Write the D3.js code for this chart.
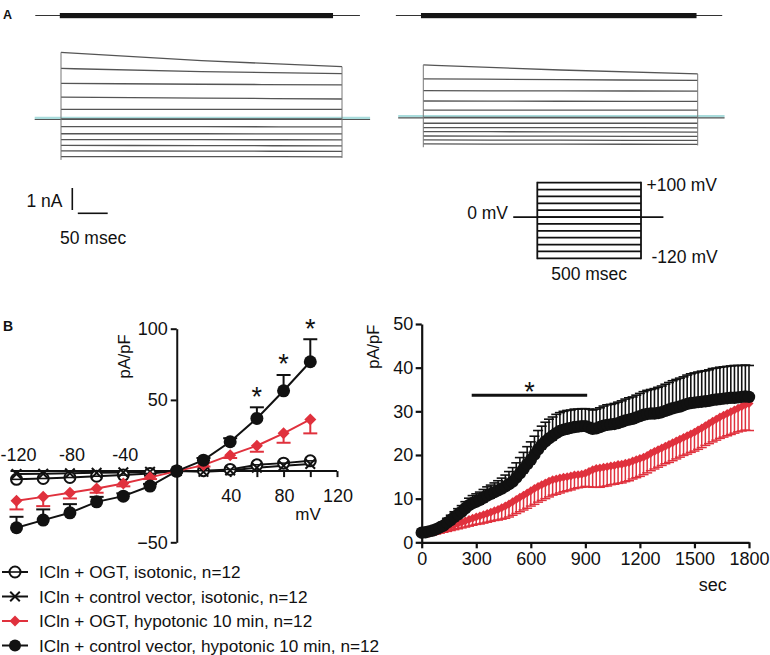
<!DOCTYPE html>
<html><head><meta charset="utf-8">
<script src="https://cdn.jsdelivr.net/npm/d3@7"></script>
<style>
body{margin:0;background:#fff}
svg{display:block}
text{font-family:"Liberation Sans",Arial,sans-serif;fill:#111}
</style>
</head><body>
<svg id="c" width="770" height="655"></svg>
<script>
// ---------- Panel A: current traces (nA) at the step voltages ----------
const stepVoltages = [100, 80, 60, 40, 20, 0, -20, -40, -60, -80, -100, -120];
const traceTimes = [0, 235, 470]; // ms: start, middle, end of the 500 ms step
const leftTraceStart = [3.03, 2.30, 1.62, 0.99, 0.44, 0, -0.35, -0.67, -0.94, -1.20, -1.45, -1.71];
const leftTraceMid   = [2.65, 2.15, 1.58, 0.95, 0.44, 0, -0.35, -0.67, -0.94, -1.21, -1.46, -1.71];
const leftTraceEnd   = [2.38, 2.06, 1.55, 0.91, 0.44, 0, -0.36, -0.68, -0.95, -1.22, -1.47, -1.72];
const rightTraceStart = [2.38, 1.75, 1.21, 0.74, 0.33, 0, -0.27, -0.47, -0.65, -0.85, -1.03, -1.21];
const rightTraceMid   = [2.15, 1.71, 1.20, 0.73, 0.33, 0, -0.27, -0.47, -0.66, -0.86, -1.04, -1.22];
const rightTraceEnd   = [1.97, 1.68, 1.19, 0.72, 0.33, 0, -0.27, -0.48, -0.67, -0.87, -1.05, -1.23];
const scaleBarCurrent = 1;   // nA
const scaleBarTime = 50;     // msec
const protocolDuration = 500; // msec

// ---------- Panel B left: I-V relation ----------
const ivVoltages = [-120, -100, -80, -60, -40, -20, 0, 20, 40, 60, 80, 100];
const ogtIso     = [-5.8, -5.2, -4.5, -3.6, -2.8, -1.7, 0, 0.3, 1.2, 4.4, 5.6, 7.2];
const ctrlIso    = [-2.0, -1.8, -1.5, -1.2, -0.9, -0.5, 0, -0.5, 0.5, 2.4, 3.8, 5.0];
const ogtHypo    = [-20.9, -18.1, -15.2, -12.2, -8.7, -4.4, 0, 4.2, 11.2, 17.8, 26.5, 36.3];
const ogtHypoErr = [6.0, 6.5, 4.0, 3.0, 2.0, 1.2, 0, 1.0, 2.0, 4.2, 6.6, 9.8];   // drawn downward
const ctrlHypo    = [-39.8, -34.4, -29.3, -21.6, -17.6, -10.5, 0, 7.7, 20.6, 37.0, 56.4, 76.8];
const ctrlHypoErr = [7.7, 7.5, 6.1, 3.5, 2.0, 1.5, 0, 1.5, 2.5, 7.8, 11.1, 15.8]; // drawn upward
const ivStarVoltages = [60, 80, 100];
const ivXTicks = [-120, -100, -80, -60, -40, -20, 0, 20, 40, 60, 80, 100, 120];
const ivXLabelsNeg = [-120, -80, -40];
const ivXLabelsPos = [40, 80, 120];
const ivYTicks = [-50, 50, 100];

// ---------- Panel B right: time course ----------
const timeSec = [0,20,40,60,80,100,120,140,160,180,200,220,240,260,280,300,320,340,360,380,
 400,420,440,460,480,500,520,540,560,580,600,620,640,660,680,700,720,740,760,780,
 800,820,840,860,880,900,920,940,960,980,1000,1020,1040,1060,1080,1100,1120,1140,1160,1180,
 1200,1220,1240,1260,1280,1300,1320,1340,1360,1380,1400,1420,1440,1460,1480,1500,1520,1540,1560,1580,
 1600,1620,1640,1660,1680,1700,1720,1740,1760,1780,1800];
const blackMean = [2.2,2.3,2.5,2.7,3.0,3.4,3.8,4.5,5.1,5.8,
 6.4,7.0,7.8,8.5,9.0,9.3,9.7,10.2,10.7,11.1,
 11.5,11.9,12.3,12.8,13.3,13.9,14.8,15.8,16.8,17.9,
 18.9,20.1,21.3,22.3,23.1,23.8,24.4,25.0,25.5,25.8,
 26.0,26.2,26.4,26.5,26.6,26.6,26.3,26.0,26.1,26.4,
 26.7,26.9,27.0,27.1,27.3,27.6,27.9,28.1,28.3,28.6,
 28.9,29.2,29.4,29.5,29.5,29.6,29.8,30.1,30.4,30.7,
 30.9,31.1,31.4,31.7,31.9,32.0,32.1,32.2,32.3,32.4,
 32.6,32.7,32.8,32.9,33.0,33.1,33.1,33.2,33.3,33.4,
 33.3];
const blackErr = [0.5,0.5,0.6,0.6,0.7,0.8,0.9,1.0,1.1,1.2,
 1.3,1.4,1.5,1.6,1.7,1.8,1.8,1.9,2.0,2.0,
 2.1,2.2,2.4,2.6,2.9,3.2,3.4,3.6,3.8,4.0,
 4.1,4.2,4.3,4.3,4.4,4.4,4.3,4.3,4.2,4.2,
 4.2,4.1,4.1,4.0,4.0,4.0,4.2,4.3,4.4,4.4,
 4.5,4.6,4.6,4.7,4.8,4.8,4.9,5.0,5.0,5.1,
 5.2,5.3,5.4,5.5,5.7,5.9,6.0,6.1,6.2,6.3,
 6.4,6.5,6.5,6.6,6.7,6.8,6.9,7.0,7.0,7.1,
 7.2,7.2,7.3,7.3,7.3,7.3,7.4,7.3,7.2,7.2,
 7.2];
const redMean = [2.0,2.0,2.1,2.3,2.5,2.8,3.1,3.4,3.7,4.0,
 4.3,4.6,4.9,5.2,5.5,5.8,6.0,6.3,6.6,6.9,
 7.2,7.5,7.9,8.3,8.8,9.3,9.8,10.3,10.8,11.3,
 11.8,12.3,12.8,13.2,13.6,14.0,14.3,14.5,14.7,14.9,
 15.0,15.2,15.4,15.5,15.6,15.8,16.2,16.6,16.9,17.0,
 17.2,17.3,17.5,17.6,17.8,17.9,18.1,18.3,18.6,18.9,
 19.2,19.5,19.9,20.4,20.8,21.2,21.6,22.0,22.4,22.8,
 23.2,23.6,24.0,24.4,24.8,25.2,25.7,26.2,26.7,27.2,
 27.7,28.2,28.7,29.1,29.5,29.9,30.3,30.7,31.1,31.5,
 31.8];
const redErr = [0.3,0.3,0.4,0.5,0.6,0.7,0.8,0.9,1.0,1.1,
 1.2,1.3,1.4,1.5,1.6,1.7,1.8,1.9,2.0,2.1,
 2.2,2.4,2.6,2.8,3.0,3.1,3.2,3.3,3.4,3.5,
 3.5,3.6,3.6,3.6,3.6,3.6,3.5,3.5,3.4,3.3,
 3.2,3.2,3.1,3.0,3.0,3.0,3.5,4.0,4.3,4.4,
 4.4,4.4,4.3,4.3,4.3,4.3,4.2,4.2,4.1,4.1,
 4.1,4.0,4.0,4.0,4.0,4.0,4.0,4.0,4.1,4.1,
 4.1,4.1,4.1,4.2,4.2,4.3,4.4,4.5,4.5,4.6,
 4.7,4.8,4.9,5.0,5.1,5.2,5.3,5.4,5.6,5.8,
 6.2];
const timeTicks = [0, 300, 600, 900, 1200, 1500, 1800];
const currentTicks = [0, 10, 20, 30, 40, 50];
const sigBarTimes = [275, 910];
const sigBarLevel = 33.7;

const legendLabels = [
  "ICln + OGT, isotonic, n=12",
  "ICln + control vector, isotonic, n=12",
  "ICln + OGT, hypotonic 10 min, n=12",
  "ICln + control vector, hypotonic 10 min, n=12"
];
const legendMarkers = ["openCircle", "cross", "diamond", "filledCircle"];

// ---------- drawing ----------
const RED = "#e0313d", BLK = "#111", TRACE = "#555";
const FS = 17.5, TFS = 18, LFS = 16.5;
const FONT = '"Liberation Sans",Arial,sans-serif';
const svg = d3.select("#c");
svg.append("rect").attr("width", 770).attr("height", 655).attr("fill", "#fff");

function marker(g, type, x, y, s) {
  if (type === "filledCircle") {
    g.append("circle").attr("cx", x).attr("cy", y).attr("r", s).attr("fill", BLK);
  } else if (type === "openCircle") {
    g.append("circle").attr("cx", x).attr("cy", y).attr("r", s - 0.5).attr("fill", "#fff")
      .attr("stroke", BLK).attr("stroke-width", 2);
    g.append("line").attr("x1", x - s + 1).attr("x2", x + s - 1).attr("y1", y).attr("y2", y)
      .attr("stroke", BLK).attr("stroke-width", 1.6);
  } else if (type === "cross") {
    const h = s * 0.8;
    g.append("path").attr("d", `M${x-h},${y-h}L${x+h},${y+h}M${x-h},${y+h}L${x+h},${y-h}`)
      .attr("stroke", BLK).attr("stroke-width", 2).attr("fill", "none");
  } else if (type === "diamond") {
    g.append("path").attr("d", `M${x},${y-s}L${x+s},${y}L${x},${y+s}L${x-s},${y}Z`).attr("fill", RED);
  }
}

// Panel labels
svg.append("text").attr("x", 3).attr("y", 18.5).attr("font-size", 12.5).attr("font-weight", "bold").text("A");
svg.append("text").attr("x", 3).attr("y", 331).attr("font-size", 14).attr("font-weight", "bold").text("B");

// ---- Panel A traces ----
function tracePanel(cfg) {
  const g = svg.append("g");
  const tx = d3.scaleLinear().domain([0, 470]).range(cfg.xr);
  const iy = d3.scaleLinear().domain([0, 1]).range([cfg.base, cfg.base - 22]);
  // top command bar
  g.append("line").attr("x1", tx(cfg.thin[0])).attr("x2", tx(cfg.thin[1]))
    .attr("y1", 15.5).attr("y2", 15.5).attr("stroke", "#333").attr("stroke-width", 1);
  g.append("rect").attr("x", tx(cfg.thick[0])).attr("width", tx(cfg.thick[1]) - tx(cfg.thick[0]))
    .attr("y", 13).attr("height", 5.2).attr("fill", "#151515");
  // baseline
  g.append("line").attr("x1", tx(cfg.hold[0])).attr("x2", tx(cfg.hold[1]))
    .attr("y1", iy(0) - 1).attr("y2", iy(0) - 1).attr("stroke", "#a9dcdc").attr("stroke-width", 2.5);
  g.append("line").attr("x1", tx(cfg.hold[0])).attr("x2", tx(cfg.hold[1]))
    .attr("y1", iy(0) + 0.5).attr("y2", iy(0) + 0.5).attr("stroke", "#555").attr("stroke-width", 1.2);
  const line = d3.line().x(d => tx(d[0])).y(d => iy(d[1])).curve(d3.curveMonotoneX);
  stepVoltages.forEach((v, i) => {
    const pts = traceTimes.map((t, k) => [t, [cfg.s[i], cfg.m[i], cfg.e[i]][k]]);
    g.append("path").attr("d", line(pts)).attr("fill", "none").attr("stroke", TRACE).attr("stroke-width", 1.3);
  });
  const top0 = iy(d3.max(cfg.s)), bot0 = iy(d3.min(cfg.s) - 0.15);
  const top1 = iy(d3.max(cfg.e)), bot1 = iy(d3.min(cfg.e) - 0.05);
  g.append("line").attr("x1", tx(0)).attr("x2", tx(0)).attr("y1", top0).attr("y2", bot0).attr("stroke", "#777").attr("stroke-width", 1);
  g.append("line").attr("x1", tx(470)).attr("x2", tx(470)).attr("y1", top1).attr("y2", bot1).attr("stroke", "#777").attr("stroke-width", 1);
  return { tx, iy };
}
const leftA = tracePanel({ xr: [61, 342], base: 119, s: leftTraceStart, m: leftTraceMid, e: leftTraceEnd,
  thin: [-43, 500], thick: [-2, 455], hold: [-44, 517] });
tracePanel({ xr: [423.3, 697.7], base: 117.3, s: rightTraceStart, m: rightTraceMid, e: rightTraceEnd,
  thin: [-47, 512], thick: [-4, 468], hold: [-43, 516] });

// scale bar
{
  const x0 = 72.3, y1 = 210;
  const h = leftA.iy(0) - leftA.iy(scaleBarCurrent);
  const w = leftA.tx(scaleBarTime) - leftA.tx(0);
  svg.append("line").attr("x1", x0).attr("x2", x0).attr("y1", y1 - h).attr("y2", y1).attr("stroke", BLK).attr("stroke-width", 1.6);
  svg.append("line").attr("x1", x0 + 5.5).attr("x2", x0 + 5.5 + w).attr("y1", 213.3).attr("y2", 213.3).attr("stroke", BLK).attr("stroke-width", 1.6);
  svg.append("text").attr("x", 26.5).attr("y", 207.3).attr("font-size", FS).text(scaleBarCurrent + " nA");
  svg.append("text").attr("x", 60).attr("y", 243.5).attr("font-size", FS).text(scaleBarTime + " msec");
}

// voltage protocol
{
  const g = svg.append("g");
  const px = d3.scaleLinear().domain([0, protocolDuration]).range([537.3, 641]);
  const py = d3.scaleLinear().domain([-120, 100]).range([258.3, 182.7]);
  g.append("line").attr("x1", px(-116)).attr("x2", px(608)).attr("y1", py(0)).attr("y2", py(0)).attr("stroke", BLK).attr("stroke-width", 1.8);
  stepVoltages.forEach(v => {
    g.append("line").attr("x1", px(0)).attr("x2", px(protocolDuration)).attr("y1", py(v)).attr("y2", py(v))
      .attr("stroke", BLK).attr("stroke-width", 1.8);
  });
  [0, protocolDuration].forEach(t => g.append("line").attr("x1", px(t)).attr("x2", px(t))
    .attr("y1", py(100) - 0.9).attr("y2", py(-120) + 0.9).attr("stroke", BLK).attr("stroke-width", 1.8));
  g.append("text").attr("x", 646.5).attr("y", py(100) + 7.8).attr("font-size", FS).text("+100 mV");
  g.append("text").attr("x", 508).attr("y", py(0) + 2.2).attr("font-size", FS).attr("text-anchor", "end").text("0 mV");
  g.append("text").attr("x", 651.5).attr("y", py(-120) + 4.6).attr("font-size", FS).text("-120 mV");
  g.append("text").attr("x", px(protocolDuration / 2)).attr("y", 279.5).attr("font-size", FS).attr("text-anchor", "middle").text(protocolDuration + " msec");
}

// ---- Panel B left: I-V ----
{
  const g = svg.append("g");
  const x = d3.scaleLinear().domain([-120, 120]).range([16.5, 337]);
  const y = d3.scaleLinear().domain([-50, 100]).range([542.3, 328.7]);
  const xa = g.append("g").attr("transform", `translate(0,${y(0)})`)
    .call(d3.axisBottom(x).tickValues(ivXTicks).tickSize(6).tickSizeOuter(0).tickFormat(""));
  xa.select(".domain").attr("stroke", BLK).attr("stroke-width", 2).attr("d", `M${x(-120) - 6},0H${x(120)}`);
  xa.selectAll(".tick line").attr("stroke", BLK).attr("stroke-width", 2);
  const ya = g.append("g").attr("transform", `translate(${x(0)},0)`)
    .call(d3.axisLeft(y).tickValues(ivYTicks).tickSize(6).tickSizeOuter(0).tickPadding(3));
  ya.select(".domain").attr("stroke", BLK).attr("stroke-width", 2);
  ya.selectAll(".tick line").attr("stroke", BLK).attr("stroke-width", 2);
  ya.selectAll(".tick text").attr("font-size", TFS).attr("fill", BLK).attr("font-family", FONT);
  ivXLabelsNeg.forEach(v => g.append("text").attr("x", x(v) + 2).attr("y", 460.5).attr("text-anchor", "middle").attr("font-size", TFS).text(v));
  ivXLabelsPos.forEach(v => g.append("text").attr("x", x(v) + 1).attr("y", 501.5).attr("text-anchor", "middle").attr("font-size", TFS).text(v));
  g.append("text").attr("x", 308).attr("y", 519.5).attr("text-anchor", "middle").attr("font-size", LFS + 0.5).text("mV");
  g.append("text").attr("transform", "translate(130,356.5) rotate(-90)").attr("text-anchor", "middle").attr("font-size", LFS).text("pA/pF");

  const line = d3.line().x((d, i) => x(ivVoltages[i])).y(d => y(d));
  g.append("path").attr("d", line(ctrlIso)).attr("fill", "none").attr("stroke", BLK).attr("stroke-width", 2);
  g.append("path").attr("d", line(ogtIso)).attr("fill", "none").attr("stroke", BLK).attr("stroke-width", 2);
  ogtIso.forEach((v, i) => marker(g, "openCircle", x(ivVoltages[i]), y(v), 6));
  ctrlIso.forEach((v, i) => marker(g, "cross", x(ivVoltages[i]), y(v), 6));
  ogtHypo.forEach((v, i) => {
    if (!ogtHypoErr[i]) return;
    const xx = x(ivVoltages[i]), y0 = y(v), y1 = y(v - ogtHypoErr[i]);
    g.append("line").attr("x1", xx).attr("x2", xx).attr("y1", y0).attr("y2", y1).attr("stroke", RED).attr("stroke-width", 2);
    g.append("line").attr("x1", xx - 7).attr("x2", xx + 7).attr("y1", y1).attr("y2", y1).attr("stroke", RED).attr("stroke-width", 2);
  });
  g.append("path").attr("d", line(ogtHypo)).attr("fill", "none").attr("stroke", RED).attr("stroke-width", 2);
  ogtHypo.forEach((v, i) => marker(g, "diamond", x(ivVoltages[i]), y(v), 6));
  ctrlHypo.forEach((v, i) => {
    if (!ctrlHypoErr[i]) return;
    const xx = x(ivVoltages[i]), y0 = y(v), y1 = y(v + ctrlHypoErr[i]);
    g.append("line").attr("x1", xx).attr("x2", xx).attr("y1", y0).attr("y2", y1).attr("stroke", BLK).attr("stroke-width", 2);
    g.append("line").attr("x1", xx - 7).attr("x2", xx + 7).attr("y1", y1).attr("y2", y1).attr("stroke", BLK).attr("stroke-width", 2);
  });
  g.append("path").attr("d", line(ctrlHypo)).attr("fill", "none").attr("stroke", BLK).attr("stroke-width", 2);
  ctrlHypo.forEach((v, i) => marker(g, "filledCircle", x(ivVoltages[i]), y(v), 6.5));
  ivStarVoltages.forEach(mv => {
    const i = ivVoltages.indexOf(mv);
    const yc = y(ctrlHypo[i] + ctrlHypoErr[i]) - 16;
    g.append("text").attr("x", x(mv)).attr("y", yc + 14.5).attr("text-anchor", "middle").attr("font-size", 27).text("*");
  });
}

// ---- Panel B right: time course ----
{
  const g = svg.append("g");
  const x = d3.scaleLinear().domain([0, 1800]).range([421.7, 749]);
  const y = d3.scaleLinear().domain([0, 50]).range([542.3, 324]);
  const xa = g.append("g").attr("transform", `translate(0,${y(0)})`)
    .call(d3.axisBottom(x).tickValues(timeTicks).tickSize(6).tickSizeOuter(0).tickPadding(4).tickFormat(d3.format("d")));
  const ya = g.append("g").attr("transform", `translate(${x(0)},0)`)
    .call(d3.axisLeft(y).tickValues(currentTicks).tickSize(6).tickSizeOuter(0).tickPadding(2.5).tickFormat(d3.format("d")));
  [xa, ya].forEach(a => {
    a.select(".domain").attr("stroke", BLK).attr("stroke-width", 2.2);
    a.selectAll(".tick line").attr("stroke", BLK).attr("stroke-width", 2.2);
    a.selectAll(".tick text").attr("font-size", TFS).attr("fill", BLK).attr("font-family", FONT);
  });
  g.append("text").attr("x", 712.7).attr("y", 591).attr("text-anchor", "middle").attr("font-size", TFS).text("sec");
  g.append("text").attr("transform", "translate(379,346.7) rotate(-90)").attr("text-anchor", "middle").attr("font-size", LFS).text("pA/pF");

  redMean.forEach((v, i) => {
    const xx = x(timeSec[i]), y1 = y(v - redErr[i]);
    g.append("line").attr("x1", xx).attr("x2", xx).attr("y1", y(v)).attr("y2", y1).attr("stroke", RED).attr("stroke-width", 1.5);
    g.append("line").attr("x1", xx - 5).attr("x2", xx + 5).attr("y1", y1).attr("y2", y1).attr("stroke", RED).attr("stroke-width", 1.5);
  });
  g.append("path").attr("d", d3.line().x((d, i) => x(timeSec[i])).y(d => y(d))(redMean)).attr("fill", "none").attr("stroke", RED).attr("stroke-width", 2.5);
  redMean.forEach((v, i) => marker(g, "diamond", x(timeSec[i]), y(v), 4.5));
  blackMean.forEach((v, i) => {
    const xx = x(timeSec[i]), y1 = y(v + blackErr[i]);
    g.append("line").attr("x1", xx).attr("x2", xx).attr("y1", y(v)).attr("y2", y1).attr("stroke", BLK).attr("stroke-width", 1.6);
    g.append("line").attr("x1", xx - 5).attr("x2", xx + 5).attr("y1", y1).attr("y2", y1).attr("stroke", BLK).attr("stroke-width", 1.6);
  });
  blackMean.forEach((v, i) => marker(g, "filledCircle", x(timeSec[i]), y(v), 6.2));
  g.append("line").attr("x1", x(sigBarTimes[0])).attr("x2", x(sigBarTimes[1])).attr("y1", y(sigBarLevel)).attr("y2", y(sigBarLevel))
    .attr("stroke", BLK).attr("stroke-width", 3);
  g.append("text").attr("x", x((sigBarTimes[0] + sigBarTimes[1]) / 2)).attr("y", y(sigBarLevel) - 9 + 14.5)
    .attr("text-anchor", "middle").attr("font-size", 27).text("*");
}

// ---- Legend ----
{
  const g = svg.append("g");
  legendLabels.forEach((lab, i) => {
    const yc = 572 + i * 24.5;
    const col = legendMarkers[i] === "diamond" ? RED : BLK;
    g.append("line").attr("x1", 2).attr("x2", 28).attr("y1", yc).attr("y2", yc).attr("stroke", col).attr("stroke-width", 2);
    marker(g, legendMarkers[i], 15, yc, legendMarkers[i] === "diamond" ? 5.5 : 6);
    g.append("text").attr("x", 39).attr("y", yc + 6.2).attr("font-size", 17.2).text(lab);
  });
}
</script>
</body></html>
